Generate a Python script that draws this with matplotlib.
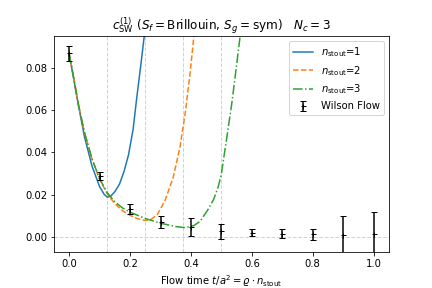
import matplotlib
matplotlib.use("Agg")
import matplotlib.pyplot as plt

# c_SW^(1) curves (flow time t/a^2 = rho * n_stout)
x_n1 = [0.0, 0.015, 0.03, 0.05, 0.075, 0.10, 0.115, 0.125, 0.135, 0.15, 0.165,
        0.18, 0.195, 0.21, 0.222, 0.235, 0.247, 0.255]
y_n1 = [0.0865, 0.0745, 0.0625, 0.0475, 0.0335, 0.0238, 0.0202, 0.0189, 0.0192, 0.0215, 0.0250,
        0.0310, 0.0390, 0.0510, 0.0660, 0.0810, 0.0955, 0.1070]

x_n2 = [0.0, 0.015, 0.03, 0.05, 0.075, 0.10, 0.125, 0.15, 0.175, 0.20, 0.225,
        0.25, 0.27, 0.29, 0.315, 0.342, 0.364, 0.381, 0.397, 0.41, 0.418]
y_n2 = [0.0865, 0.0750, 0.0628, 0.0495, 0.0368, 0.0272, 0.0205, 0.0158, 0.0125, 0.0103, 0.0087,
        0.0079, 0.0085, 0.0108, 0.0174, 0.0284, 0.0426, 0.0584, 0.0773, 0.0955, 0.1080]

x_n3 = [0.0, 0.015, 0.03, 0.05, 0.075, 0.10, 0.125, 0.15, 0.175, 0.20, 0.25,
        0.30, 0.35, 0.38, 0.41, 0.43, 0.455, 0.475, 0.49, 0.50, 0.518,
        0.534, 0.548, 0.562, 0.57]
y_n3 = [0.0865, 0.0750, 0.0628, 0.0495, 0.0370, 0.0275, 0.0210, 0.0167, 0.0138, 0.0118, 0.0088,
        0.0066, 0.0050, 0.0045, 0.0055, 0.0075, 0.0128, 0.0180, 0.0240, 0.0300, 0.0473,
        0.0630, 0.0790, 0.0955, 0.1060]

# Wilson flow points
x_wf = [0.0, 0.1, 0.2, 0.3, 0.4, 0.5, 0.6, 0.7, 0.8, 0.9, 1.0]
y_wf = [0.0868, 0.0290, 0.0134, 0.0071, 0.0047, 0.0028, 0.0021, 0.0017, 0.0013, 0.0011, 0.0016]
e_wf = [0.0034, 0.0018, 0.0024, 0.0029, 0.0042, 0.0036, 0.0016, 0.0020, 0.0025, 0.0088, 0.0102]

vlines = [0.125, 0.25, 0.375, 0.5]

fig, ax = plt.subplots(figsize=(6, 4), dpi=72)
fig.subplots_adjust(left=0.125, right=0.9, top=0.875, bottom=0.125)

for v in vlines:
    ax.axvline(v, color='lightgrey', ls='--', lw=1, zorder=0)
ax.axhline(0, color='lightgrey', ls='--', lw=1, zorder=0)

ax.plot(x_n1, y_n1, '-', color='C0', label=r'$n_{\rm stout}$=1')
ax.plot(x_n2, y_n2, '--', color='C1', label=r'$n_{\rm stout}$=2')
ax.plot(x_n3, y_n3, '-.', color='C2', label=r'$n_{\rm stout}$=3')
ax.errorbar(x_wf, y_wf, yerr=e_wf, fmt='+', color='k', capsize=3, ms=5,
            label='Wilson Flow')

ax.set_xlim(-0.05, 1.05)
ax.set_ylim(-0.007, 0.095)
ax.set_xticks([0.0, 0.2, 0.4, 0.6, 0.8, 1.0])
ax.set_yticks([0.0, 0.02, 0.04, 0.06, 0.08])
ax.set_xlabel(r'Flow time $t/a^2 = \varrho \cdot n_{\rm stout}$')
ax.set_title(r'$c_{\rm SW}^{(1)}\ (S_f = {\rm Brillouin},\, S_g = {\rm sym})\quad N_c = 3$')
ax.legend(loc='upper right')

plt.savefig('out.png', dpi=72)
